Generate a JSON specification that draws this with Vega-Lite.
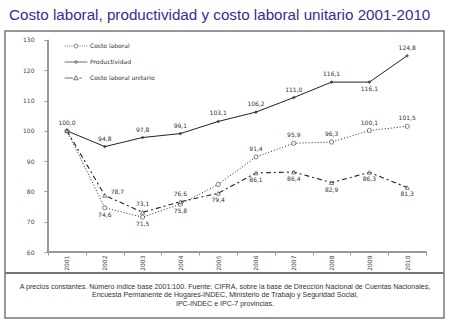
{
  "$schema": "https://vega.github.io/schema/vega-lite/v6.json",
  "width": 439,
  "height": 287,
  "autosize": {"type": "none"},
  "padding": {"left": 5, "top": 31, "right": 6, "bottom": 5},
  "background": "white",
  "title": {
    "text": "Costo laboral, productividad y costo laboral unitario 2001-2010",
    "anchor": "start",
    "frame": "group",
    "font": "Liberation Sans",
    "fontSize": 15.2,
    "fontWeight": "normal",
    "color": "#3b2b96",
    "offset": 8,
    "dx": 4
  },
  "config": {
    "locale": {"number": {"decimal": ",", "thousands": ".", "grouping": [3], "currency": ["", ""]}},
    "view": {"stroke": "#777", "strokeWidth": 1.5},
    "axis": {"grid": false, "domain": false, "labelFont": "DejaVu Sans", "labelFontSize": 6, "labelColor": "#444", "tickColor": "#999"}
  },
  "data": {
    "values": [
      {"year": 2001, "series": "Costo laboral", "value": 100.0},
      {"year": 2002, "series": "Costo laboral", "value": 74.6},
      {"year": 2003, "series": "Costo laboral", "value": 71.5},
      {"year": 2004, "series": "Costo laboral", "value": 75.8},
      {"year": 2005, "series": "Costo laboral", "value": 82.3},
      {"year": 2006, "series": "Costo laboral", "value": 91.4},
      {"year": 2007, "series": "Costo laboral", "value": 95.9},
      {"year": 2008, "series": "Costo laboral", "value": 96.3},
      {"year": 2009, "series": "Costo laboral", "value": 100.1},
      {"year": 2010, "series": "Costo laboral", "value": 101.5},
      {"year": 2001, "series": "Productividad", "value": 100.0},
      {"year": 2002, "series": "Productividad", "value": 94.8},
      {"year": 2003, "series": "Productividad", "value": 97.8},
      {"year": 2004, "series": "Productividad", "value": 99.1},
      {"year": 2005, "series": "Productividad", "value": 103.1},
      {"year": 2006, "series": "Productividad", "value": 106.2},
      {"year": 2007, "series": "Productividad", "value": 111.0},
      {"year": 2008, "series": "Productividad", "value": 116.1},
      {"year": 2009, "series": "Productividad", "value": 116.1},
      {"year": 2010, "series": "Productividad", "value": 124.8},
      {"year": 2001, "series": "Costo laboral unitario", "value": 100.0},
      {"year": 2002, "series": "Costo laboral unitario", "value": 78.7},
      {"year": 2003, "series": "Costo laboral unitario", "value": 73.1},
      {"year": 2004, "series": "Costo laboral unitario", "value": 76.6},
      {"year": 2005, "series": "Costo laboral unitario", "value": 79.4},
      {"year": 2006, "series": "Costo laboral unitario", "value": 86.1},
      {"year": 2007, "series": "Costo laboral unitario", "value": 86.4},
      {"year": 2008, "series": "Costo laboral unitario", "value": 82.9},
      {"year": 2009, "series": "Costo laboral unitario", "value": 86.3},
      {"year": 2010, "series": "Costo laboral unitario", "value": 81.3}
    ]
  },
  "encoding": {
    "x": {
      "field": "year",
      "type": "quantitative",
      "scale": {"domain": [1999.36, 2010.974], "nice": false, "zero": false},
      "axis": {
        "values": [2000.5, 2001.5, 2002.5, 2003.5, 2004.5, 2005.5, 2006.5, 2007.5, 2008.5, 2009.5, 2010.5],
        "labelExpr": "datum.value < 2010 ? toString(datum.value + 0.5) : ''",
        "labelOffset": 18.9,
        "labelAngle": 270,
        "tickSize": 3,
        "labelPadding": 0,
        "offset": -66,
        "title": [
          "A precios constantes. Número índice base 2001:100. Fuente: CIFRA, sobre la base de Dirección Nacional de Cuentas Nacionales,",
          "Encuesta Permanente de Hogares-INDEC, Ministerio de Trabajo y Seguridad Social,",
          "IPC-INDEC e IPC-7 provincias."
        ],
        "titleFont": "Liberation Sans",
        "titleFontSize": 7.1,
        "titleFontWeight": "normal",
        "titleColor": "#333",
        "titleLineHeight": 8.6,
        "titlePadding": 12
      }
    },
    "y": {
      "field": "value",
      "type": "quantitative",
      "scale": {"domain": [38.21, 132.97], "nice": false, "zero": false},
      "axis": {
        "values": [60, 70, 80, 90, 100, 110, 120, 130],
        "tickSize": 4,
        "labelPadding": 10,
        "offset": -43,
        "title": null
      }
    }
  },
  "layer": [
    {
      "mark": {"type": "rule", "color": "#777", "strokeWidth": 1.5},
      "encoding": {"x": {"value": 0}, "x2": {"value": 439}, "y": {"datum": 53.07}}
    },
    {
      "mark": {"type": "rule", "color": "#999", "strokeWidth": 1},
      "encoding": {"x": {"datum": 2000.5}, "y": {"datum": 60}, "y2": {"datum": 130}}
    },
    {
      "mark": {"type": "rule", "color": "#999", "strokeWidth": 1},
      "encoding": {"x": {"datum": 2000.5}, "x2": {"datum": 2010.5}, "y": {"datum": 60}}
    },
    {
      "transform": [{"filter": "datum.series === 'Costo laboral'"}],
      "mark": {"type": "line", "color": "#222", "strokeWidth": 1, "strokeDash": [1, 2]},
      "encoding": {}
    },
    {
      "transform": [{"filter": "datum.series === 'Productividad'"}],
      "mark": {"type": "line", "color": "#222", "strokeWidth": 1},
      "encoding": {}
    },
    {
      "transform": [{"filter": "datum.series === 'Costo laboral unitario'"}],
      "mark": {"type": "line", "color": "#222", "strokeWidth": 1.1, "strokeDash": [5, 3, 2, 3]},
      "encoding": {}
    },
    {
      "transform": [{"filter": "datum.series === 'Costo laboral'"}],
      "mark": {"type": "point", "shape": "circle", "filled": true, "fill": "white", "stroke": "#222", "strokeWidth": 0.8, "size": 18}
    },
    {
      "transform": [{"filter": "datum.series === 'Productividad'"}],
      "mark": {"type": "point", "shape": "diamond", "filled": true, "fill": "#222", "stroke": "#222", "strokeWidth": 0.5, "size": 10}
    },
    {
      "transform": [{"filter": "datum.series === 'Costo laboral unitario'"}],
      "mark": {"type": "point", "shape": "triangle-up", "filled": true, "fill": "white", "stroke": "#222", "strokeWidth": 0.8, "size": 18}
    },
    {
      "transform": [{"filter": "false"}],
      "mark": {"type": "point", "color": "#222", "filled": false},
      "encoding": {
        "shape": {
          "field": "series",
          "type": "nominal",
          "scale": {
            "domain": ["Costo laboral", "Productividad", "Costo laboral unitario"],
            "range": [
              "M-1,0h0.09M-0.8,0h0.09M-0.6,0h0.09M-0.4,0h0.09M-0.17,0a0.17,0.17 0 1,0 0.34,0a0.17,0.17 0 1,0 -0.34,0M0.3,0h0.09M0.5,0h0.09M0.7,0h0.09M0.9,0h0.09",
              "M-1,0H1M0,-0.14L0.14,0L0,0.14L-0.14,0Z",
              "M-1,0H-0.25M0,-0.2L0.2,0.15L-0.2,0.15ZM0.3,0H0.5"
            ]
          },
          "legend": {
            "title": null,
            "orient": "none",
            "legendX": 59,
            "legendY": 3,
            "padding": 0,
            "gridAlign": "all",
            "symbolSize": 529,
            "symbolStrokeWidth": 0.9,
            "labelFont": "DejaVu Sans",
            "labelFontSize": 6,
            "labelColor": "#333",
            "labelOffset": 2,
            "rowPadding": -10
          }
        }
      }
    },
    {
      "transform": [{"filter": "(datum.series === 'Productividad' && datum.year !== 2009) || (datum.series === 'Costo laboral' && datum.year >= 2006) || (datum.series === 'Costo laboral unitario' && (datum.year === 2003 || datum.year === 2004))"}],
      "mark": {"type": "text", "font": "DejaVu Sans", "fontSize": 6, "color": "#333", "baseline": "middle", "dy": -8},
      "encoding": {"text": {"field": "value", "type": "quantitative", "format": ".1f"}}
    },
    {
      "transform": [{"filter": "(datum.series === 'Productividad' && datum.year === 2009) || (datum.series === 'Costo laboral' && datum.year >= 2002 && datum.year <= 2004) || (datum.series === 'Costo laboral unitario' && datum.year >= 2005)"}],
      "mark": {"type": "text", "font": "DejaVu Sans", "fontSize": 6, "color": "#333", "baseline": "middle", "dy": 7},
      "encoding": {"text": {"field": "value", "type": "quantitative", "format": ".1f"}}
    },
    {
      "transform": [{"filter": "datum.series === 'Costo laboral unitario' && datum.year === 2002"}],
      "mark": {"type": "text", "font": "DejaVu Sans", "fontSize": 6, "color": "#333", "baseline": "middle", "align": "left", "dx": 6, "dy": -3},
      "encoding": {"text": {"field": "value", "type": "quantitative", "format": ".1f"}}
    }
  ]
}
